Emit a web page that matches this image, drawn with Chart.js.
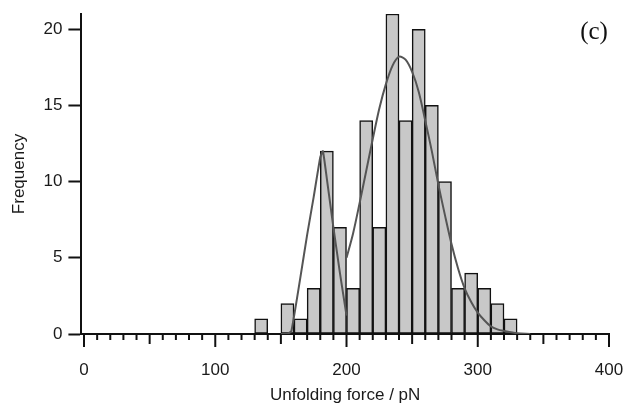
<!DOCTYPE html>
<html>
<head>
<meta charset="utf-8">
<script src="https://cdn.jsdelivr.net/npm/chart.js@4.4.1/dist/chart.umd.min.js"></script>
<style>
  html, body { margin: 0; padding: 0; background: #fff; }
  #wrap { width: 625px; height: 406px; }
</style>
</head>
<body>
<div id="wrap"><canvas id="histChart"></canvas></div>
<script>
// histogram: left edge of each 10 pN bin and its count
const binStarts = [130, 140, 150, 160, 170, 180, 190, 200, 210, 220, 230, 240, 250, 260, 270, 280, 290, 300, 310, 320];
const counts    = [1, 0, 2, 1, 3, 12, 7, 3, 14, 7, 21, 14, 20, 15, 10, 3, 4, 3, 2, 1];
const binWidth = 10;

// fitted peaks
const fit1X = [150, 155, 158, 165, 170, 175, 180, 182, 185, 190, 195, 200];
const fit1Y = [0, 0, 0.2, 3.8, 6.5, 9.0, 11.6, 12.0, 10.2, 7.0, 4.0, 1.2];
const fit2X = [200, 205, 210, 215, 220, 225, 230, 235, 240, 245, 250, 255, 260, 265, 270, 275, 280, 285, 290, 295, 300, 305, 310, 315, 320, 330, 340];
const fit2Y = [5.0, 6.6, 8.6, 10.7, 12.8, 14.8, 16.4, 17.6, 18.2, 18.0, 17.2, 15.9, 14.0, 12.0, 9.8, 7.8, 5.9, 4.3, 3.0, 2.1, 1.4, 0.9, 0.5, 0.3, 0.2, 0.05, 0];

const xTickLabels = [0, 100, 200, 300, 400];
const yTickLabels = [0, 5, 10, 15, 20];

const axisColor = '#111';
const textColor = '#1a1a1a';
const labelFont = { family: "'Liberation Sans', Arial, sans-serif", size: 17 };

// minor / mid / major ticks under the x axis
const xTickMarks = {
    id: 'xTickMarks',
    afterDraw(chart) {
        const ctx = chart.ctx, x = chart.scales.x, y0 = chart.chartArea.bottom;
        ctx.save();
        ctx.strokeStyle = axisColor;
        ctx.lineWidth = 2;
        for (let v = 0; v <= 400; v += 10) {
            const len = v % 100 === 0 ? 13 : (v % 50 === 0 ? 10 : 6);
            const px = x.getPixelForValue(v);
            ctx.beginPath();
            ctx.moveTo(px, y0);
            ctx.lineTo(px, y0 + len);
            ctx.stroke();
        }
        ctx.restore();
    }
};

const panelLabel = {
    id: 'panelLabel',
    afterDraw(chart) {
        const ctx = chart.ctx;
        ctx.save();
        ctx.fillStyle = '#111';
        ctx.font = "25px 'Liberation Serif', 'Times New Roman', serif";
        ctx.textAlign = 'center';
        ctx.textBaseline = 'middle';
        ctx.fillText('(c)', 594, 32);
        ctx.restore();
    }
};

const ctx = document.getElementById('histChart').getContext('2d');
new Chart(ctx, {
    type: 'bar',
    data: {
        datasets: [
            { type: 'line', label: 'fit 1', data: fit1X.map((x, i) => ({ x: x, y: fit1Y[i] })), borderColor: '#555', borderWidth: 2, pointRadius: 0, tension: 0.15, order: 0 },
            { type: 'line', label: 'fit 2', data: fit2X.map((x, i) => ({ x: x, y: fit2Y[i] })), borderColor: '#555', borderWidth: 2, pointRadius: 0, tension: 0.3, order: 0 },
            { type: 'bar', label: 'Frequency', data: binStarts.map((s, i) => ({ x: s + binWidth / 2, y: counts[i] })), backgroundColor: '#c8c8c8', borderColor: '#111', borderWidth: 1.5, borderSkipped: false, barPercentage: 1, categoryPercentage: 1, grouped: false, order: 1 }
        ]
    },
    plugins: [xTickMarks, panelLabel],
    options: {
        responsive: true,
        maintainAspectRatio: false,
        animation: false,
        layout: { padding: { top: 14, right: 16, left: 0, bottom: 0 } },
        plugins: { legend: { display: false }, tooltip: { enabled: false } },
        scales: {
            x: {
                type: 'linear', min: -2, max: 400, offset: false,
                afterBuildTicks: s => { s.ticks = xTickLabels.map(v => ({ value: v })); },
                afterFit: s => { s.height = 72; s.paddingLeft = 0; s.paddingRight = 0; },
                grid: { drawOnChartArea: false, drawTicks: false, offset: false },
                border: { color: axisColor, width: 2 },
                ticks: { padding: 26, color: textColor, font: labelFont, maxRotation: 0 },
                title: { display: true, text: 'Unfolding force / pN', color: textColor, font: labelFont, padding: { top: 0, bottom: 0 } }
            },
            y: {
                min: 0, max: 21,
                afterBuildTicks: s => { s.ticks = yTickLabels.map(v => ({ value: v })); },
                afterFit: s => { s.width = 81.4; s.paddingTop = 0; s.paddingBottom = 0; },
                grid: { drawOnChartArea: false, drawTicks: true, tickLength: 13, tickWidth: 2, tickColor: axisColor },
                border: { color: axisColor, width: 2 },
                ticks: { padding: 6, color: textColor, font: labelFont },
                title: { display: true, text: 'Frequency', color: textColor, font: labelFont, padding: { top: 9, bottom: 0 } }
            }
        }
    }
});
</script>
</body>
</html>
